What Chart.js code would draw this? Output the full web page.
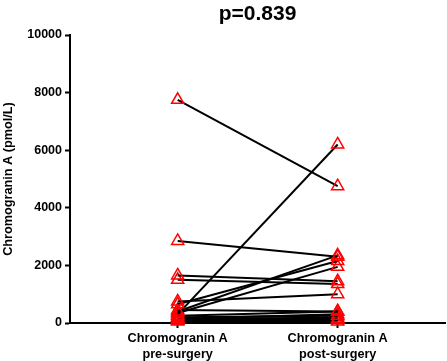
<!DOCTYPE html>
<html>
<head>
<meta charset="utf-8">
<script src="https://cdn.jsdelivr.net/npm/chart.js@4/dist/chart.umd.min.js"></script>
<style>
  html, body { margin: 0; padding: 0; background: #fff; }
  #wrap { width: 447px; height: 361px; }
</style>
</head>
<body>
<div id="wrap"><canvas id="c" width="447" height="361"></canvas></div>
<script>
// ---- data ----
const categories = [['Chromogranin A', 'pre-surgery'], ['Chromogranin A', 'post-surgery']];
const preSurgery  = [7750, 2850, 1650, 1500, 750, 650, 400, 350, 300, 450, 250, 200, 180, 150, 120, 100, 80, 50];
const postSurgery = [4750, 2300, 1450, 1350, 1000, 2150, 2350, 1950, 6200, 400, 400, 250, 150, 300, 100, 200, 50, 120];
const yTicks = [0, 2000, 4000, 6000, 8000, 10000];
const titleText = 'p=0.839';
const yTitle = 'Chromogranin A (pmol/L)';

const FONT = "'Liberation Sans', Arial, sans-serif";

const datasets = preSurgery.map((v, i) => ({
  data: [{ x: 0, y: v }, { x: 1, y: postSurgery[i] }],
  borderColor: '#000',
  borderWidth: 2,
  pointStyle: 'triangle',
  pointRadius: 7,
  pointBorderColor: '#ff0000',
  pointBackgroundColor: 'rgba(0,0,0,0)',
  pointBorderWidth: 1.5,
  showLine: true,
  tension: 0,
  clip: false
}));

const titlePlugin = {
  id: 'ptitle',
  afterDraw(chart) {
    const ctx = chart.ctx;
    const a = chart.chartArea;
    ctx.save();
    ctx.font = 'bold 21px ' + FONT;
    ctx.fillStyle = '#000';
    ctx.textAlign = 'center';
    ctx.textBaseline = 'alphabetic';
    ctx.fillText(titleText, (a.left + a.right) / 2, 20);
    ctx.restore();
  }
};

new Chart(document.getElementById('c'), {
  type: 'scatter',
  data: { datasets },
  options: {
    responsive: false,
    animation: false,
    layout: { autoPadding: false, padding: { top: 35, right: 2, left: 0, bottom: 0 } },
    plugins: { legend: { display: false }, tooltip: { enabled: false }, title: { display: false } },
    scales: {
      x: {
        type: 'linear',
        min: -0.673,
        max: 1.671,
        afterBuildTicks: s => { s.ticks = [0, 1].map(v => ({ value: v })); },
        afterFit: s => { s.height = 38; },
        grid: { drawOnChartArea: false, tickLength: 5, tickWidth: 2, color: '#000' },
        border: { display: true, color: '#000', width: 2 },
        ticks: {
          autoSkip: false,
          maxRotation: 0,
          padding: 2,
          color: '#000',
          font: { family: FONT, size: 12.7, weight: 'bold', lineHeight: 1.26 },
          callback: v => categories[v] || ''
        }
      },
      y: {
        min: 0,
        max: 10000,
        afterBuildTicks: s => { s.ticks = yTicks.map(v => ({ value: v })); },
        afterFit: s => { s.width = 70; },
        grid: { drawOnChartArea: false, tickLength: 5, tickWidth: 2, color: '#000' },
        border: { display: true, color: '#000', width: 2 },
        ticks: {
          padding: 3,
          color: '#000',
          font: { family: FONT, size: 12.5, weight: 'bold' },
          callback: v => String(v)
        },
        title: {
          display: true,
          text: yTitle,
          color: '#000',
          padding: { top: 1, bottom: 0 },
          font: { family: FONT, size: 12.7, weight: 'bold' }
        }
      }
    }
  },
  plugins: [titlePlugin]
});
</script>
</body>
</html>
